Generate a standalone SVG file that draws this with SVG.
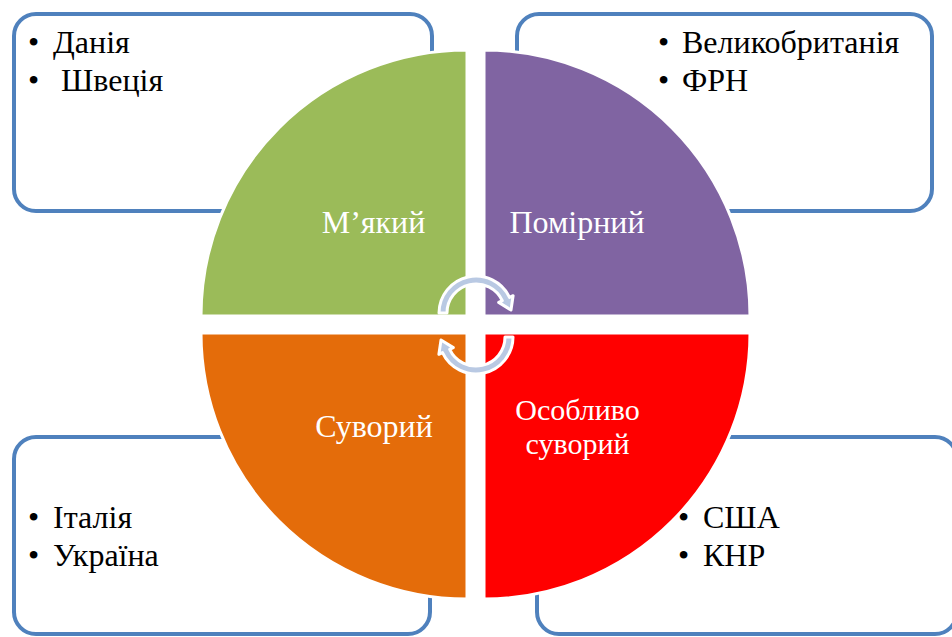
<svg xmlns="http://www.w3.org/2000/svg" width="952" height="637" viewBox="0 0 952 637">
<style>
.box{fill:#fff;stroke:#4F81BD;stroke-width:4}
.wedge{stroke:#fff;stroke-width:3}
.lbl{font-family:'Liberation Serif','DejaVu Serif',serif;font-size:32px;fill:#fff;text-anchor:middle}
.item{font-family:'Liberation Serif','DejaVu Serif',serif;font-size:32px;fill:#000}
.arr{fill:#B9C9E3;stroke:#fff;stroke-width:3;stroke-linejoin:round}
</style>
<g id="box-tl"><rect class="box" x="14" y="14" width="418" height="197" rx="22"/>
<text class="item" x="28" y="53">•</text><text class="item" x="53" y="53">Данія</text>
<text class="item" x="28" y="91">•</text><text class="item" x="61" y="91">Швеція</text></g>
<g id="box-tr"><rect class="box" x="517" y="14" width="415" height="197" rx="22"/>
<text class="item" x="658" y="53">•</text><text class="item" x="682" y="53">Великобританія</text>
<text class="item" x="658" y="91">•</text><text class="item" x="682" y="91">ФРН</text></g>
<g id="box-bl"><rect class="box" x="14" y="437" width="416" height="197" rx="22"/>
<text class="item" x="28" y="528">•</text><text class="item" x="53" y="528">Італія</text>
<text class="item" x="28" y="566">•</text><text class="item" x="53" y="566">Україна</text></g>
<g id="box-br"><rect class="box" x="537" y="437" width="420" height="197" rx="22"/>
<text class="item" x="678" y="528">•</text><text class="item" x="703" y="528">США</text>
<text class="item" x="678" y="566">•</text><text class="item" x="703" y="566">КНР</text></g>
<g id="q-soft"><path class="wedge" fill="#9BBB59" d="M467,316 L201,316 A266,266 0 0 1 467,50 Z"/><text class="lbl" x="373.5" y="233">М’який</text></g>
<g id="q-moderate"><path class="wedge" fill="#8064A2" d="M484,316 L484,50 A266,266 0 0 1 750,316 Z"/><text class="lbl" x="577" y="233">Помірний</text></g>
<g id="q-strict"><path class="wedge" fill="#E46C0A" d="M467,333 L467,599 A266,266 0 0 1 201,333 Z"/><text class="lbl" x="374" y="437">Суворий</text></g>
<g id="q-very"><path class="wedge" fill="#FF0000" d="M484,333 L750,333 A266,266 0 0 1 484,599 Z"/><text class="lbl" style="font-size:30px"><tspan x="577.5" y="420">Особливо</tspan><tspan x="577.5" y="454">суворий</tspan></text></g>
<g id="connectors">
<path id="arrow-top" class="arr" d="M439,313 A37,37 0 0 1 509.5,297.4 L513.1,295.7 L511,310 L498.7,302.4 L502.3,300.7 A29,29 0 0 0 447,313 Z"/>
<use href="#arrow-top" transform="rotate(180 476 325)"/>
</g>
</svg>
